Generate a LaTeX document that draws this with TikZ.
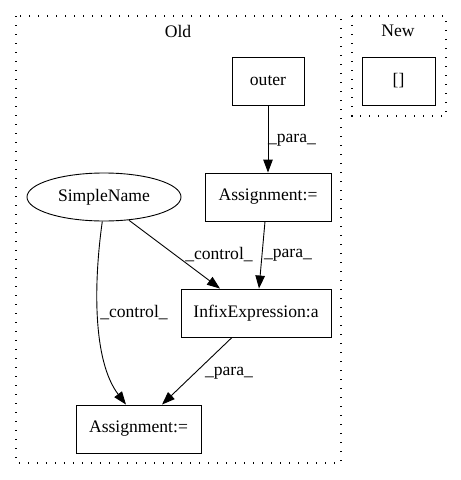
\documentclass[tikz,border=0pt]{standalone}
\usepackage{fontspec}
\setmainfont{Liberation Serif}
\usetikzlibrary{arrows.meta,shapes.geometric}
\begin{document}
\begin{tikzpicture}[x=1pt,y=-1pt,
  every node/.style={font=\fontsize{17.6}{20}\selectfont},
  box/.style={draw,line width=0.9pt,rectangle,inner sep=0pt},
  cluster/.style={draw,line width=1.4pt,dash pattern=on 1.4pt off 7.6pt},
  edge/.style={draw,line width=0.9pt,-{Triangle[length=13pt,width=9.5pt]}},
  lbl/.style={inner sep=0pt}]
\useasboundingbox (0,0) rectangle (461,480);
\draw[cluster] (16,16) rectangle (341,463);
\draw[cluster] (352,16) rectangle (446,116);
\node (oldt) at (178,31) {Old};
\node (newt) at (398,31) {New};
\node[box,minimum width=72pt,minimum height=48pt] (outer) at (268,81) {outer};
\node[box,minimum width=73pt,minimum height=48pt] (br) at (398.5,81) {[]};
\node[box,minimum width=126pt,minimum height=48pt] (at) at (268,197) {Assignment:=};
\node[draw,line width=0.9pt,ellipse,inner sep=0pt,minimum width=154pt,minimum height=48pt] (sn) at (104,197) {SimpleName};
\node[box,minimum width=150pt,minimum height=48pt] (ie) at (256,313) {InfixExpression:a};
\node[box,minimum width=125pt,minimum height=48pt] (ab) at (138.5,429) {Assignment:=};
\draw[edge] (outer.south) -- (at.north);
\draw[edge] ([xshift=-3pt]at.south) -- ([xshift=3pt]ie.north);
\draw[edge] (sn.-43) -- ([xshift=-36pt]ie.north);
\draw[edge] (sn.266) .. controls (94,280) and (92,360) .. ([xshift=-12.5pt]ab.north);
\draw[edge] ([xshift=-24pt]ie.south) -- ([xshift=23.5pt]ab.north);
\node[lbl] (l1) at (292,140) {\_para\_};
\node[lbl] (l2) at (288,255) {\_para\_};
\node[lbl] (l3) at (219,255) {\_control\_};
\node[lbl] (l4) at (134,313) {\_control\_};
\node[lbl] (l5) at (229,373) {\_para\_};
\end{tikzpicture}
\end{document}
